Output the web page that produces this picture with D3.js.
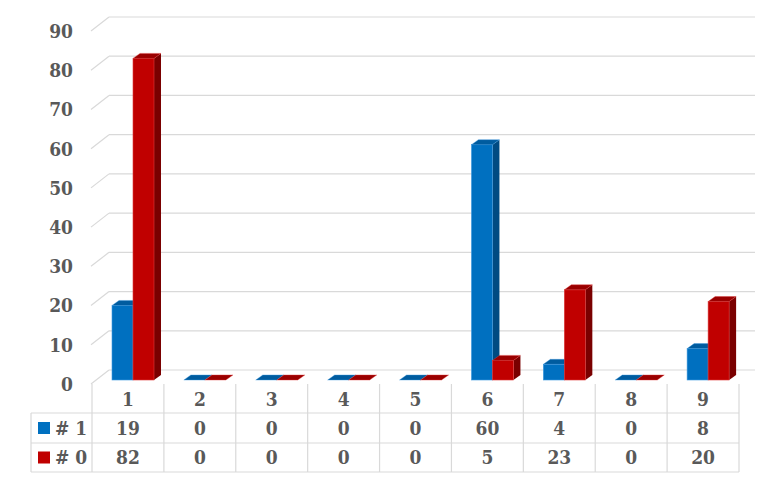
<!DOCTYPE html>
<html><head><meta charset="utf-8">
<script src="https://cdn.jsdelivr.net/npm/d3@7"></script>
<style>body{margin:0;background:#fff;} svg{display:block;}</style>
</head><body>
<svg id="c" width="768" height="480"></svg>
<script>
const categories = ["1","2","3","4","5","6","7","8","9"];
const seriesNames = ["# 1", "# 0"];
const series1 = [19, 0, 0, 0, 0, 60, 4, 0, 8];
const series0 = [82, 0, 0, 0, 0, 5, 23, 0, 20];
const yTicks = [0, 10, 20, 30, 40, 50, 60, 70, 80, 90];
const seriesValues = [series1, series0];
const colors = [
  {front:"#0070C0", side:"#004b82", top:"#005c9f", edge:"#3f9ae0"},
  {front:"#C00000", side:"#7a0000", top:"#9a0000", edge:"#e03a3a"}
];

const svg = d3.select("#c");
const font = "'DejaVu Serif Condensed', 'DejaVu Serif', serif";
const fontSize = 19;
const textColor = "#595959";
const gridColor = "#d9d9d9";

const x = d3.scaleBand().domain(categories).range([92, 739]).paddingInner(0).paddingOuter(0);
const y = d3.scaleLinear().domain([0, 90]).range([384, 31]);
const depthX = 18, depthY = -14;
const barDX = 7, barDY = -5;
const barLift = -4;
const barW = 21, barOffset = 20;
const gridRight = 755;

const styleText = sel => sel.attr("font-family", font).attr("font-weight", "bold")
  .attr("font-stretch", "condensed").attr("font-size", fontSize).attr("fill", textColor);

const g = svg.append("g");
yTicks.forEach(t => {
  const yf = y(t);
  g.append("line").attr("x1", 91).attr("y1", yf).attr("x2", 91 + depthX).attr("y2", yf + depthY)
    .attr("stroke", gridColor).attr("stroke-width", 1.2);
  g.append("line").attr("x1", 91 + depthX).attr("y1", yf + depthY).attr("x2", gridRight).attr("y2", yf + depthY)
    .attr("stroke", gridColor).attr("stroke-width", 1.2);
  styleText(svg.append("text").attr("x", 73).attr("y", yf).attr("dy", "0.36em").attr("text-anchor", "end"))
    .text(t);
});

const bars = svg.append("g");
categories.forEach((c, ci) => {
  seriesValues.forEach((vals, si) => {
    const v = vals[ci];
    const col = colors[si];
    const x0 = x(c) + barOffset + si * barW;
    const x1 = x0 + barW;
    const yb = y(0) + barLift;
    const yt = y(v) + barLift;
    if (v > 0) {
      bars.append("polygon").attr("points", [[x1, yb], [x1 + barDX, yb + barDY], [x1 + barDX, yt + barDY], [x1, yt]].join(" "))
        .attr("fill", col.side);
      bars.append("rect").attr("x", x0).attr("y", yt).attr("width", barW).attr("height", yb - yt)
        .attr("fill", col.front).attr("stroke", col.edge).attr("stroke-width", 0.6);
    }
    bars.append("polygon").attr("points", [[x0, yt], [x1, yt], [x1 + barDX, yt + barDY], [x0 + barDX, yt + barDY]].join(" "))
      .attr("fill", col.top).attr("stroke", col.edge).attr("stroke-width", 0.4);
  });
});

const t = svg.append("g");
const tableTop = 384, row1 = 413, row2 = 443, row3 = 472, leftEdge = 31;
const lineAttr = sel => sel.attr("stroke", gridColor).attr("stroke-width", 1.2);
[row1, row2, row3].forEach(ry => lineAttr(t.append("line").attr("x1", leftEdge).attr("x2", 739).attr("y1", ry).attr("y2", ry)));
lineAttr(t.append("line").attr("x1", leftEdge).attr("x2", leftEdge).attr("y1", row1).attr("y2", row3));
categories.forEach(c => {
  lineAttr(t.append("line").attr("x1", x(c)).attr("x2", x(c)).attr("y1", tableTop).attr("y2", row3));
});
lineAttr(t.append("line").attr("x1", 739).attr("x2", 739).attr("y1", tableTop).attr("y2", row3));

const cellText = (tx, ty, s) => styleText(t.append("text").attr("x", tx).attr("y", ty).attr("dy", "0.36em")
  .attr("text-anchor", "middle")).text(s);

categories.forEach((c, ci) => {
  const cx = x(c) + x.bandwidth() / 2;
  cellText(cx, (tableTop + row1) / 2 + 1, c);
  cellText(cx, (row1 + row2) / 2, series1[ci]);
  cellText(cx, (row2 + row3) / 2, series0[ci]);
});

seriesNames.forEach((n, si) => {
  const ry = si === 0 ? (row1 + row2) / 2 : (row2 + row3) / 2;
  t.append("rect").attr("x", 38).attr("y", ry - 6).attr("width", 12).attr("height", 12).attr("fill", colors[si].front);
  styleText(t.append("text").attr("x", 55).attr("y", ry).attr("dy", "0.36em")).text(n);
});
</script>
</body></html>
